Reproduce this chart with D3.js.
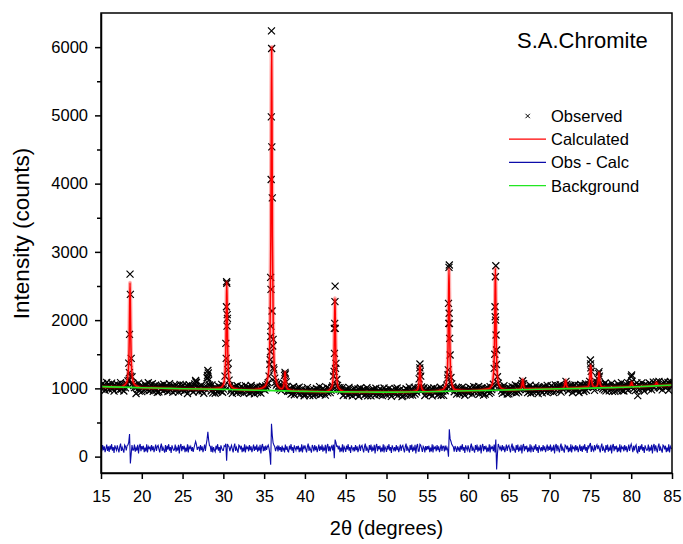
<!DOCTYPE html>
<html>
<head>
<meta charset="utf-8">
<script src="https://cdn.jsdelivr.net/npm/d3@7"></script>
<style>
  body { margin: 0; background: #fff; }
  svg text { font-family: "Liberation Sans", Arial, sans-serif; fill: #000; }
</style>
</head>
<body>
<div id="chart"></div>
<script>
// scan grid (2theta start / step) and observed counts at each step
var scanStart = 15, scanStep = 0.1;
var obsCounts = [
  1037,990,1073,1017,1052,973,1030,1086,1006,1058,
  981,1040,1016,1077,995,1031,959,1052,1024,1007,
  1056,1007,971,1041,1085,989,1033,1015,962,1059,
  1007,1067,1060,1110,1370,1792,2378,1440,1170,1075,
  1042,1010,1048,925,1024,985,1076,959,1032,1019,
  952,1034,1019,973,1057,999,1041,985,1082,966,
  1010,1052,985,1067,958,1024,999,1046,976,941,
  1024,949,1032,990,1042,1005,961,1060,980,1017,
  1038,989,953,1023,1067,971,1015,997,944,1041,
  1010,963,1046,990,1025,946,1003,1059,979,1031,
  986,1046,962,1002,974,1039,925,1020,1053,979,
  1022,990,1028,947,1004,1065,1115,1085,1012,999,
  950,1009,985,1046,964,1000,928,1021,993,1030,
  1155,1262,1120,1050,1027,962,1052,935,1008,995,
  929,1011,996,950,1034,976,1018,962,1059,943,
  988,1032,1180,1660,2562,2026,1370,1120,1040,962,
  1002,927,1010,968,1020,983,939,1038,958,995,
  991,944,1027,971,1006,927,984,1040,960,1012,
  1013,964,928,998,1042,946,990,972,919,1016,
  964,1024,940,980,952,1017,930,998,1031,990,
  1010,975,1035,1012,1058,1085,1180,1353,2627,6237,
  3792,1719,1270,1150,1090,1048,1067,1010,1036,985,
  1022,968,1040,1012,1075,1190,1210,1095,1030,958,
  990,958,996,915,972,933,1024,907,980,967,
  961,1003,936,1018,909,975,950,997,927,892,
  915,974,950,1011,929,965,893,986,958,941,
  896,978,963,917,1001,943,985,929,1026,910,
  964,917,1000,944,979,900,957,1013,933,985,
  991,938,972,1010,1035,1180,1880,2499,1367,1130,
  1045,1010,983,1012,960,977,1012,895,968,955,
  985,936,900,970,1014,918,962,944,891,988,
  938,998,914,954,926,991,885,972,1005,931,
  975,943,981,900,957,918,1009,892,965,952,
  966,891,974,932,984,947,903,1002,922,959,
  957,910,993,937,972,893,950,1006,926,978,
  904,963,939,1000,918,954,882,975,947,930,
  949,991,924,1006,897,963,938,985,915,880,
  889,971,956,910,994,936,978,922,1019,903,
  985,936,900,970,1014,918,962,944,991,1010,
  1140,1357,1180,1020,975,993,1012,895,968,962,
  941,1001,917,957,929,994,890,975,1008,934,
  982,950,988,907,964,925,1016,899,972,959,
  898,980,965,1002,1048,1150,2245,2807,1489,1160,
  1065,1021,1004,951,985,1003,915,966,1010,943,
  921,980,956,1017,935,971,899,992,964,947,
  977,930,1013,957,992,913,970,1026,946,998,
  970,1012,945,1027,918,984,959,1006,936,901,
  990,915,998,956,1008,971,927,1026,946,983,
  1009,1060,1294,2196,2797,1562,1170,1075,1030,1012,
  1012,963,927,997,1041,945,989,971,918,1015,
  920,1002,987,941,1025,967,1009,953,1050,934,
  971,1031,947,987,1010,1040,1070,1112,1068,1001,
  1012,980,1018,937,994,955,1046,929,1002,989,
  944,1003,979,1040,958,994,922,1015,987,970,
  1008,933,1016,974,1026,989,945,1044,964,1001,
  1002,955,1038,982,1017,938,995,1051,971,1023,
  996,1038,971,1053,944,1010,985,1032,1015,1040,
  1102,1060,1010,965,1026,1007,1042,998,939,1036,
  990,1050,966,1006,978,1043,940,1024,1057,983,
  1039,990,954,1024,1068,972,1016,1030,1060,1102,
  1415,1250,1085,1043,1015,970,1035,1062,1090,1140,
  1220,1180,1070,1012,1054,994,1038,978,1079,963,
  1039,1007,1045,964,1021,982,1073,956,1029,1016,
  955,1037,1022,976,1060,1002,1044,988,1085,969,
  1036,961,1044,1002,1054,1017,973,1072,1030,1075,
  1170,1105,1040,992,1047,968,1025,1081,893,1053,
  984,1043,1019,1080,998,1034,962,1055,1027,1010,
  1042,995,1078,1022,1057,978,1035,1091,1011,1063,
  1060,1095,1052,1020,1102,1006,1050,1032,979,1076,
  1034,1094,1010,1050,1022,1087,973,1068,1101,1027,
  1058
];

// extra observed points read on the reflection flanks [2theta, counts]
var peakObs = [
  [18.56,2675],[18.48,1230],[18.62,1180],[18.45,1120],
  [26.62,1095],[28.05,1190],[28.15,1225],[28.12,1150],
  [30.38,2196],[30.42,2540],[30.45,1913],[30.35,1440],[30.55,1270],[30.47,2080],
  [35.92,5980],[35.88,4978],[35.94,4539],[35.86,4061],[35.84,2451],[35.97,2133],
  [35.83,1913],[36.05,1621],[35.78,1537],[35.75,1420],[36.15,1300],[35.81,1760],
  [37.56,1235],
  [43.68,2270],[43.65,1953],[43.62,1513],[43.75,1294],[43.72,1880],[43.58,1250],
  [54.08,1300],[54.13,1250],
  [57.66,2773],[57.63,1953],[57.68,2100],[57.74,1733],[57.57,1270],[57.72,1950],[57.55,1200],
  [63.35,2636],[63.33,2050],[63.38,2000],[63.43,1782],[63.27,1500],[63.47,1350],
  [75.05,1300],[75.02,1360],[76.05,1245],[80.05,1196]
];

// calculated profile [2theta, counts]
var calcProfile = [
  [15,1025],[17.5,1018],
  [17.76,1036],[18.16,1089],[18.36,1272],[18.46,1700],[18.51,2186],[18.56,2548],[18.61,2186],[18.66,1700],[18.76,1272],[18.96,1088],[19.36,1031],
  [20,1010],[22.5,1002],[25,995],[27.5,990],
  [29.62,1006],[30.02,1061],[30.22,1249],[30.32,1687],[30.37,2186],[30.42,2557],[30.47,2186],[30.52,1687],[30.62,1248],[30.82,1059],[31.22,1002],
  [32.5,978],[33.5,981],[34.5,993],
  [35.12,1032],[35.52,1210],[35.72,1813],[35.82,3217],[35.87,4812],[35.92,6000],[35.97,4812],[36.02,3217],[36.12,1813],[36.32,1209],[36.72,1028],
  [37.16,995],[37.36,1025],[37.46,1098],[37.51,1182],[37.56,1245],[37.61,1180],[37.66,1095],[37.76,1018],[37.96,985],
  [38.5,967],[40,956],[42.5,951],
  [42.88,967],[43.28,1016],[43.48,1180],[43.58,1562],[43.63,1996],[43.68,2319],[43.73,1996],[43.78,1562],[43.88,1180],[44.08,1016],[44.48,966],
  [45,948],[47.5,946],[50,945],[52.5,947],
  [53.7,967],[53.9,1013],[54.0,1119],[54.05,1239],[54.1,1329],[54.15,1239],[54.2,1119],[54.3,1013],[54.5,967],
  [55,950],
  [56.86,978],[57.26,1042],[57.46,1257],[57.56,1757],[57.61,2325],[57.66,2748],[57.71,2325],[57.76,1758],[57.86,1259],[58.06,1044],[58.46,980],
  [60,965],
  [62.55,993],[62.95,1058],[63.15,1273],[63.25,1771],[63.3,2337],[63.35,2758],[63.4,2337],[63.45,1772],[63.55,1275],[63.75,1060],[64.15,996],
  [65,978],
  [66.3,988],[66.5,1006],[66.6,1049],[66.65,1097],[66.7,1132],[66.75,1097],[66.8,1049],[66.9,1007],[67.1,989],
  [70,990],
  [71.56,1000],[71.76,1017],[71.86,1052],[71.91,1093],[71.96,1123],[72.01,1093],[72.06,1052],[72.16,1017],[72.36,1002],
  [74.63,1019],[74.83,1059],[74.93,1154],[74.98,1261],[75.03,1340],[75.08,1261],[75.13,1155],[75.23,1060],[75.43,1022],
  [75.65,1020],[75.85,1046],[75.95,1109],[76.0,1181],[76.05,1235],[76.1,1181],[76.15,1109],[76.25,1046],[76.45,1019],
  [77.5,1011],
  [79.65,1023],[79.85,1032],[79.95,1051],[80.0,1073],[80.05,1090],[80.1,1073],[80.15,1051],[80.25,1032],[80.45,1024],
  [82.5,1033],
  [82.7,1040],[82.9,1046],[83.0,1060],[83.05,1076],[83.1,1087],[83.15,1076],[83.2,1060],[83.3,1046],[83.5,1042],
  [85,1050]
];

// background [2theta, counts]
var bgProfile = [
  [15,1025],[17.5,1018],[20,1010],[22.5,1002],[25,995],[27.5,990],[30,985],[32.5,978],
  [35,970],[37.5,963],[40,956],[42.5,951],[45,948],[47.5,946],[50,945],[52.5,947],
  [55,950],[57.5,957],[60,965],[62.5,971],[65,978],[67.5,984],[70,990],[72.5,997],
  [75,1004],[77.5,1011],[80,1020],[82.5,1033],[85,1050]
];

// obs - calc (offset), same scan grid
var diffCounts = [
  140,78,168,96,152,64,118,175,85,150,
  70,160,104,182,88,139,55,165,125,92,
  165,110,62,145,190,83,136,100,58,170,
  150,90,160,170,210,330,-100,40,170,95,
  98,176,74,128,90,172,48,150,185,80,
  155,106,160,66,132,75,180,60,148,120,
  140,78,168,96,152,64,118,175,85,150,
  165,110,62,145,190,83,136,100,58,170,
  70,160,104,182,88,139,55,165,125,92,
  98,176,74,128,90,172,48,150,185,80,
  155,106,160,66,132,75,180,60,148,120,
  150,82,140,70,128,175,222,180,100,135,
  140,78,168,96,152,64,118,175,85,180,
  250,362,240,160,150,70,160,62,140,95,
  70,160,104,182,88,139,55,165,125,92,
  90,160,150,190,-60,185,160,140,80,130,
  165,110,62,145,190,83,136,100,58,170,
  155,106,160,66,132,75,180,60,148,120,
  140,78,168,96,152,64,118,175,85,150,
  98,176,74,128,90,172,48,150,185,80,
  150,85,160,98,145,170,120,40,-120,480,
  310,200,170,145,80,130,150,75,160,95,
  140,70,160,95,130,60,175,100,150,80,
  70,160,104,182,88,139,55,165,125,92,
  155,106,160,66,132,75,180,60,148,120,
  165,110,62,145,190,83,136,100,58,170,
  140,78,168,96,152,64,118,175,85,150,
  98,176,74,128,90,172,48,150,185,80,
  150,78,140,160,90,175,-25,250,210,150,
  155,106,160,66,132,75,180,60,148,120,
  70,160,104,182,88,139,55,165,125,92,
  140,78,168,96,152,64,118,175,85,150,
  165,110,62,145,190,83,136,100,58,170,
  98,176,74,128,90,172,48,150,185,80,
  155,106,160,66,132,75,180,60,148,120,
  70,160,104,182,88,139,55,165,125,92,
  140,78,168,96,152,64,118,175,85,150,
  165,110,62,145,190,83,136,100,58,170,
  98,176,74,128,90,172,48,150,185,80,
  80,180,165,120,70,150,130,62,155,95,
  155,106,160,66,132,75,180,60,148,120,
  140,78,168,96,152,64,118,175,85,150,
  150,75,160,92,140,100,0,400,260,225,
  180,160,140,72,155,120,68,150,100,130,
  70,160,104,182,88,139,55,165,125,92,
  165,110,62,145,190,83,136,100,58,170,
  98,176,74,128,90,172,48,150,185,80,
  155,106,160,66,132,75,180,60,148,120,
  140,80,175,60,250,-190,40,185,150,110,
  140,78,168,96,152,64,118,175,85,150,
  165,110,62,145,190,83,136,100,58,170,
  98,176,74,128,90,172,48,150,185,80,
  155,106,160,66,132,75,180,60,148,120,
  70,160,104,182,88,139,55,165,125,92,
  140,78,168,96,152,64,118,175,85,150,
  98,176,74,128,90,172,48,150,185,80,
  165,110,62,145,190,83,136,100,58,170,
  155,106,160,66,132,75,180,60,148,120,
  140,78,168,96,152,64,118,175,85,150,
  70,160,104,182,88,139,55,165,125,170,
  200,70,160,100,80,170,90,150,175,110,
  165,110,62,145,190,83,136,100,58,170,
  98,176,74,128,90,172,48,150,185,80,
  155,106,160,66,132,75,180,60,148,120,
  140,78,168,96,152,64,118,175,85,150,
  185,130,65,160,90,150,172,70,55,155,
  70,160,104,182,88,139,55,165,125,92,
  98,176,74,128,90,172,48,150,185,80,
  165,110,62,145,190,83,136,100,58,170,
  155,106,160,66,132,75,180,60,148,120,
  115
];

var xTicks = [15,20,25,30,35,40,45,50,55,60,65,70,75,80,85];
var yTicks = [0,1000,2000,3000,4000,5000,6000];
var yMinorTicks = [500,1500,2500,3500,4500,5500];
var legendNames = ["Observed","Calculated","Obs - Calc","Background"];
var legendColors = ["#000","#ff0000","#0c0caa","#22e622"];
var sampleName = "S.A.Chromite";

var width = 683, height = 544,
    margin = {top: 13, right: 11, bottom: 71, left: 101},
    plotW = width - margin.left - margin.right,
    plotH = height - margin.top - margin.bottom;

var svg = d3.select("#chart")
    .append("svg")
    .attr("width", width)
    .attr("height", height);

var x = d3.scaleLinear()
    .domain([15, 85])
    .range([margin.left, margin.left + plotW]);

var y = d3.scaleLinear()
    .domain([-240, 6500])
    .range([margin.top + plotH, margin.top]);

svg.append("clipPath")
    .attr("id", "plotclip")
  .append("rect")
    .attr("x", margin.left)
    .attr("y", margin.top)
    .attr("width", plotW)
    .attr("height", plotH);

var plot = svg.append("g").attr("clip-path", "url(#plotclip)");

var observed = obsCounts.map(function(c, i) { return [scanStart + i * scanStep, c]; })
    .concat(peakObs);
var difference = diffCounts.map(function(c, i) { return [scanStart + i * scanStep, c]; });

// observed points as small crosses
plot.append("g")
    .selectAll("path")
    .data(observed)
    .enter()
    .append("path")
    .attr("transform", function(d) { return "translate(" + x(d[0]) + "," + y(d[1]) + ")"; })
    .attr("d", "M-3.5,-3.5L3.5,3.5M-3.5,3.5L3.5,-3.5")
    .attr("stroke", "#000")
    .attr("stroke-width", 1.2)
    .attr("fill", "none");

var line = d3.line()
    .x(function(d) { return x(d[0]); })
    .y(function(d) { return y(d[1]); });

// soft halo + core line for the calculated profile
plot.append("path")
    .datum(calcProfile)
    .attr("d", line.curve(d3.curveMonotoneX))
    .attr("fill", "none")
    .attr("stroke", "#ff0000")
    .attr("stroke-opacity", 0.3)
    .attr("stroke-width", 4);

plot.append("path")
    .datum(calcProfile)
    .attr("d", line.curve(d3.curveMonotoneX))
    .attr("fill", "none")
    .attr("stroke", "#ff0000")
    .attr("stroke-width", 1.5);

plot.append("path")
    .datum(bgProfile)
    .attr("d", line.curve(d3.curveMonotoneX))
    .attr("fill", "none")
    .attr("stroke", "#22e622")
    .attr("stroke-width", 1.6);

plot.append("path")
    .datum(difference)
    .attr("d", line.curve(d3.curveLinear))
    .attr("fill", "none")
    .attr("stroke", "#0c0caa")
    .attr("stroke-width", 1.1);

// axes
svg.append("g")
    .attr("transform", "translate(0," + (margin.top + plotH) + ")")
    .call(d3.axisBottom(x).tickValues(xTicks).tickSize(6).tickSizeOuter(0).tickPadding(11));

svg.append("g")
    .attr("transform", "translate(" + margin.left + ",0)")
    .call(d3.axisLeft(y).tickValues(yTicks).tickFormat(d3.format("d"))
      .tickSize(6).tickSizeOuter(0).tickPadding(7));

svg.append("g")
    .attr("transform", "translate(" + margin.left + ",0)")
    .call(d3.axisLeft(y).tickValues(yMinorTicks).tickSize(4).tickSizeOuter(0).tickFormat(""))
    .select(".domain").remove();

svg.selectAll(".tick text")
    .style("font-size", "16.5px")
    .style("font-family", "'Liberation Sans', Arial, sans-serif");
svg.selectAll(".domain, .tick line")
    .attr("stroke", "#000")
    .attr("stroke-width", 1.5);

svg.append("rect")
    .attr("x", margin.left)
    .attr("y", margin.top)
    .attr("width", plotW)
    .attr("height", plotH)
    .attr("fill", "none")
    .attr("stroke", "#000")
    .attr("stroke-width", 1.5);

// titles
svg.append("text")
    .attr("x", margin.left + plotW / 2)
    .attr("y", 535)
    .attr("text-anchor", "middle")
    .style("font-size", "20px")
    .text("2θ (degrees)");

svg.append("text")
    .attr("transform", "translate(29,233.5) rotate(-90)")
    .attr("text-anchor", "middle")
    .style("font-size", "22.5px")
    .text("Intensity (counts)");

svg.append("text")
    .attr("x", 517)
    .attr("y", 48)
    .style("font-size", "22px")
    .text(sampleName);

// legend
var legend = svg.append("g")
    .selectAll("g")
    .data(legendNames)
    .enter()
    .append("g")
    .attr("transform", function(d, i) { return "translate(0," + (116 + i * 23.2) + ")"; });

legend.each(function(d, i) {
  var g = d3.select(this);
  if (i === 0) {
    g.append("path")
        .attr("d", "M525.5,-2.2L529.9,2.2M525.5,2.2L529.9,-2.2")
        .attr("stroke", "#000")
        .attr("stroke-width", 1);
  } else {
    g.append("line")
        .attr("x1", 509)
        .attr("x2", 546)
        .attr("y1", 0)
        .attr("y2", 0)
        .attr("stroke", legendColors[i])
        .attr("stroke-width", 1.2);
  }
  g.append("text")
      .attr("x", 551)
      .attr("y", 6)
      .style("font-size", "16.5px")
      .text(d);
});
</script>
</body>
</html>
